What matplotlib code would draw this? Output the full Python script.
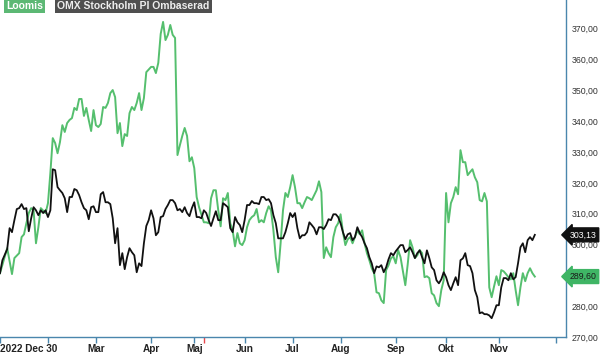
import matplotlib
matplotlib.use("Agg")
import matplotlib.pyplot as plt
from matplotlib.transforms import blended_transform_factory

plt.rcParams['font.family'] = ['Liberation Sans', 'DejaVu Sans']

# Handelsdagar räknat från 2022-12-30
loomis_days = [0, 3, 5, 6, 8, 9, 10, 11, 12, 13, 14, 15, 16, 17, 19, 20, 21, 22, 23, 24,
               25, 26, 27, 28, 29, 30, 31, 32, 33, 34, 35, 36, 37, 38, 39, 40, 41, 42, 43, 44,
               45, 46, 47, 48, 49, 50, 51, 52, 53, 54, 55, 56, 57, 58, 59, 60, 61, 63, 64, 65,
               66, 67, 68, 69, 70, 71, 72, 73, 74, 75, 76, 77, 78, 79, 80, 81, 82, 83, 85, 86,
               87, 88, 89, 90, 91, 92, 93, 94, 95, 96, 97, 98, 99, 100, 101, 102, 103, 104, 105, 106,
               107, 108, 109, 110, 111, 112, 113, 114, 115, 116, 117, 118, 119, 120, 121, 122, 123, 124, 125, 126,
               127, 128, 129, 130, 131, 132, 133, 134, 135, 136, 137, 138, 139, 140, 141, 142, 143, 144, 145, 146,
               147, 148, 149, 150, 151, 152, 153, 154, 155, 156, 157, 158, 159, 160, 161, 162, 163, 164, 165, 166,
               167, 168, 169, 170, 171, 172, 173, 174, 175, 176, 177, 178, 179, 180, 181, 182, 183, 184, 185, 186,
               187, 188, 189, 190, 191, 192, 193, 194, 195, 196, 197, 198, 199, 200, 201, 202, 203, 204, 205, 206,
               207, 208, 209, 210, 211, 212, 213, 214, 215, 216, 217, 218, 219, 220, 221, 222, 223]
loomis_values = [290.7, 298.8, 290.4, 295.6, 297.2, 302.4, 303.3, 306.9, 310.2, 311.8, 311.1, 300.4, 305.6, 311.8, 310.2, 313.4, 323.2, 334.5, 332.9, 329.6,
                 333.2, 338.7, 336.5, 339.4, 340.4, 341.0, 344.3, 343.6, 347.2, 347.2, 341.7, 344.3, 340.4, 336.8, 343.6, 338.7, 338.1, 339.1, 344.6, 344.3,
                 345.9, 349.1, 350.1, 347.8, 336.1, 339.4, 331.9, 335.8, 335.2, 342.6, 344.6, 343.6, 345.9, 349.1, 343.6, 347.5, 355.9, 357.6, 357.6, 355.6,
                 358.9, 368.3, 372.2, 366.3, 368.0, 371.2, 368.0, 367.0, 329.0, 332.2, 335.2, 337.8, 335.2, 327.0, 328.3, 324.8, 315.4, 312.1, 307.2, 307.2,
                 306.9, 315.0, 317.6, 317.6, 311.1, 305.9, 315.0, 314.4, 316.7, 306.9, 304.6, 299.4, 303.7, 300.4, 299.8, 301.4, 305.6, 307.9, 308.9, 309.5,
                 311.5, 307.2, 307.9, 307.2, 310.2, 312.4, 311.1, 304.6, 295.9, 291.0, 300.4, 311.1, 316.7, 315.4, 318.6, 322.5, 318.6, 313.4, 313.4, 311.8,
                 313.7, 315.4, 315.0, 314.4, 316.0, 317.6, 320.5, 317.0, 295.6, 299.1, 297.2, 295.9, 302.4, 305.6, 306.9, 309.8, 304.0, 299.8, 301.7, 302.4,
                 300.4, 302.4, 304.6, 303.3, 304.6, 300.4, 297.2, 294.9, 292.3, 290.7, 284.5, 284.2, 281.9, 281.0, 291.7, 293.3, 295.5, 296.2, 293.9, 298.2,
                 295.9, 291.3, 286.8, 293.6, 301.4, 299.1, 295.6, 296.5, 298.2, 297.2, 289.4, 289.7, 289.1, 284.2, 283.5, 281.0, 280.0, 285.2, 288.4, 316.7,
                 307.2, 313.4, 315.4, 318.6, 316.3, 330.6, 326.7, 326.7, 322.5, 323.5, 324.4, 321.8, 320.2, 314.4, 314.0, 316.7, 314.0, 286.1, 282.9, 286.4,
                 289.7, 286.8, 291.7, 291.3, 290.4, 289.4, 288.7, 290.7, 285.2, 280.3, 286.1, 290.7, 288.1, 290.7, 292.3, 290.7, 289.6]

omx_days = [0, 1] + list(range(3, 224))
omx_values = [290.7, 294.9, 298.5, 305.3, 304.0, 307.9, 311.5, 311.8, 313.1, 311.5, 311.8, 304.3, 308.5, 312.1, 311.1, 309.5, 311.1, 310.2, 311.1, 308.9,
              311.1, 324.4, 324.1, 318.6, 317.6, 316.7, 315.0, 310.5, 315.4, 315.4, 318.0, 317.6, 316.0, 313.7, 311.8, 311.1, 308.2, 312.1, 312.4, 310.5,
              310.5, 316.3, 317.0, 313.7, 313.7, 313.1, 308.5, 300.4, 305.3, 293.3, 297.2, 292.0, 295.9, 298.8, 297.5, 296.5, 291.0, 293.9, 293.0, 300.4,
              306.0, 307.9, 311.1, 308.5, 303.0, 304.0, 308.9, 309.2, 311.5, 312.8, 314.4, 314.4, 313.4, 311.1, 311.5, 310.5, 312.1, 310.2, 309.2, 311.8,
              313.7, 308.9, 308.9, 308.5, 311.1, 310.2, 307.9, 306.0, 308.5, 310.8, 307.9, 307.9, 313.4, 312.8, 312.1, 305.3, 304.0, 308.9, 307.2, 306.3,
              304.0, 307.9, 312.8, 312.8, 314.1, 313.4, 313.4, 313.1, 315.4, 315.4, 314.4, 314.7, 313.4, 309.5, 306.9, 302.0, 302.0, 302.0, 304.0, 306.9,
              310.2, 308.9, 310.2, 305.3, 302.0, 303.0, 303.0, 304.0, 307.2, 306.3, 305.3, 303.3, 305.6, 305.6, 305.0, 306.3, 308.2, 307.9, 309.8, 309.8,
              308.9, 306.9, 304.0, 301.7, 303.3, 303.7, 301.4, 302.4, 305.6, 303.7, 302.4, 300.4, 298.8, 295.9, 293.9, 290.7, 292.9, 292.6, 293.3, 291.0,
              292.6, 295.2, 297.2, 296.5, 297.8, 298.8, 299.8, 299.8, 297.5, 298.2, 299.1, 297.5, 295.6, 297.2, 298.1, 295.9, 293.9, 298.1, 295.6, 292.6,
              291.7, 288.4, 287.4, 288.7, 291.0, 289.4, 286.8, 285.2, 287.4, 289.4, 286.8, 294.9, 295.5, 297.2, 293.3, 293.0, 290.7, 285.2, 282.9, 277.7,
              278.0, 277.4, 277.4, 277.0, 276.1, 278.0, 280.3, 280.3, 286.1, 289.1, 289.1, 288.4, 290.7, 288.7, 289.4, 293.9, 299.1, 300.4, 297.5, 301.4,
              302.4, 301.4, 303.13]

month_days = [0, 20, 40, 63, 81, 102, 122, 142, 165, 186, 208, 232]
month_labels = ['2022 Dec 30', '', 'Mar', 'Apr', 'Maj', 'Jun', 'Jul', 'Aug', 'Sep', 'Okt', 'Nov', '']
event_day = 85
y_ticks = [270, 280, 290, 300, 310, 320, 330, 340, 350, 360, 370]
hidden_tick = 290  # ligger under den gröna värdeetiketten i originalet

green = '#55bf6e'
axis_col = '#4a86ad'

fig = plt.figure(figsize=(6, 3.54), dpi=100)
ax = fig.add_axes([0, 17 / 354, 566 / 600, 1 - 17 / 354])

ax.plot(loomis_days, loomis_values, color=green, lw=1.4)
ax.plot(omx_days, omx_values, color='#111111', lw=1.3)

ax.set_xlim(0, 236)
ax.set_ylim(270, 379.3)

for s in ['left', 'top']:
    ax.spines[s].set_visible(False)
for s in ['right', 'bottom']:
    ax.spines[s].set_color(axis_col)
    ax.spines[s].set_linewidth(1)

ax.set_xticks(month_days)
ax.set_xticklabels(month_labels, fontsize=7.2, fontweight='bold', color='#222222')
ax.get_xticklabels()[0].set_horizontalalignment('left')
ax.tick_params(axis='x', direction='out', length=4, width=1, color=axis_col, pad=1)
ax.vlines(event_day, -0.018, 0, transform=ax.get_xaxis_transform(), color='#e8474c',
          lw=1, clip_on=False)

ax.yaxis.tick_right()
ax.set_yticks(y_ticks)
ax.set_yticklabels(['' if v == hidden_tick else f'{v:.2f}'.replace('.', ',') for v in y_ticks])
ax.tick_params(axis='y', length=0, pad=4, labelsize=6.3, labelcolor='#333333')

# värdeetiketter till höger
tr = blended_transform_factory(ax.transAxes, ax.transData)
ax.text(1.006, omx_values[-1], f'{omx_values[-1]:.2f}'.replace('.', ','), transform=tr,
        ha='left', va='center', fontsize=6.3, color='white', clip_on=False, zorder=5,
        bbox=dict(boxstyle='larrow,pad=0.28', fc='#111111', ec='#111111'))
ax.text(1.006, loomis_values[-1], f'{loomis_values[-1]:.2f}'.replace('.', ','), transform=tr,
        ha='left', va='center', fontsize=6.3, color='#1a1a1a', clip_on=False, zorder=5,
        bbox=dict(boxstyle='larrow,pad=0.28', fc='#3fb565', ec='#3fb565'))

# förklaring uppe till vänster
fig.text(6 / 600, 1 - 6 / 354, 'Loomis', ha='left', va='center', fontsize=7.5,
         fontweight='bold', color='white',
         bbox=dict(boxstyle='square,pad=0.22', fc='#5cb874', ec='none'))
fig.text(57 / 600, 1 - 6 / 354, 'OMX Stockholm PI Ombaserad', ha='left', va='center',
         fontsize=7.5, fontweight='bold', color='#eeeeee',
         bbox=dict(boxstyle='square,pad=0.22', fc='#4f4f4f', ec='none'))

fig.savefig('out.png', dpi=100)
